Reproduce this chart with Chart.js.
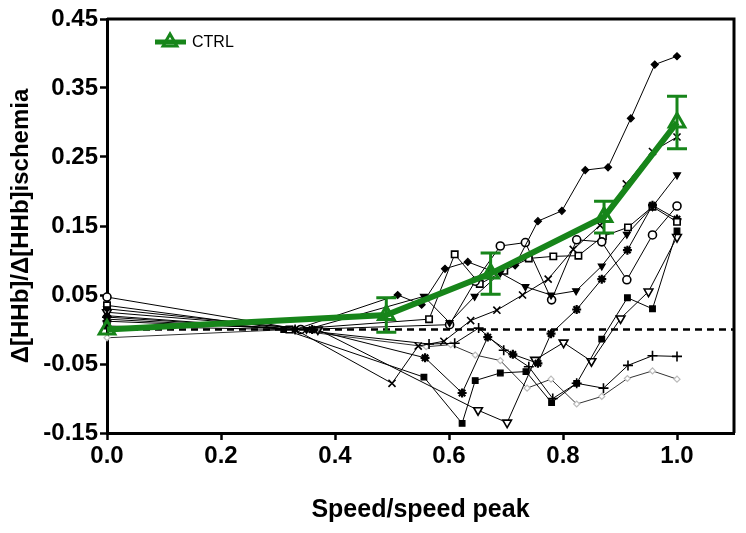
<!DOCTYPE html>
<html>
<head>
<meta charset="utf-8">
<script src="https://cdn.jsdelivr.net/npm/chart.js@4/dist/chart.umd.min.js"></script>
<style>
  html, body { margin: 0; padding: 0; background: #fff; }
  #wrap { width: 746px; height: 533px; }
</style>
</head>
<body>
<div id="wrap"><canvas id="chart" width="746" height="533"></canvas></div>
<script>
// tick labels
const xTicks = [0, 0.2, 0.4, 0.6, 0.8, 1.0];
const yTicks = [-0.15, -0.05, 0.05, 0.15, 0.25, 0.35, 0.45];

// CTRL group: mean and error
const ctrlX = [0, 0.49, 0.673, 0.872, 1.0];
const ctrlY = [0, 0.021, 0.081, 0.163, 0.300];
const ctrlErr = [0, 0.025, 0.030, 0.023, 0.038];

// zero reference line
const zeroX = [0, 1.1];
const zeroY = [0, 0];

// individual subjects
const diamondX = [0, 0.33, 0.51, 0.552, 0.593, 0.633, 0.674, 0.716, 0.756, 0.798, 0.839, 0.879, 0.919, 0.961, 1.0];
const diamondY = [0.020, 0.000, 0.050, 0.036, 0.088, 0.098, 0.085, 0.093, 0.157, 0.172, 0.231, 0.235, 0.306, 0.384, 0.396];

const crossX = [0, 0.33, 0.50, 0.546, 0.591, 0.638, 0.684, 0.729, 0.774, 0.818, 0.865, 0.911, 0.957, 1.0];
const crossY = [0.015, 0.000, -0.078, -0.024, -0.017, 0.013, 0.028, 0.050, 0.073, 0.116, 0.151, 0.211, 0.258, 0.279];

const triFillX = [0, 0.35, 0.556, 0.601, 0.645, 0.690, 0.734, 0.779, 0.823, 0.868, 0.912, 0.957, 1.0];
const triFillY = [0.030, 0.000, 0.048, 0.010, 0.048, 0.082, 0.062, 0.050, 0.056, 0.092, 0.138, 0.178, 0.224];

const circleX = [0, 0.34, 0.601, 0.646, 0.690, 0.734, 0.780, 0.824, 0.868, 0.912, 0.957, 1.0];
const circleY = [0.047, 0.000, 0.007, 0.070, 0.121, 0.126, 0.043, 0.130, 0.127, 0.072, 0.137, 0.179];

const squareX = [0, 0.32, 0.565, 0.610, 0.654, 0.697, 0.740, 0.783, 0.827, 0.870, 0.914, 0.957, 1.0];
const squareY = [0.035, 0.000, 0.015, 0.109, 0.066, 0.085, 0.103, 0.106, 0.107, 0.135, 0.148, 0.178, 0.156];

const starX = [0, 0.36, 0.558, 0.623, 0.668, 0.712, 0.756, 0.779, 0.824, 0.868, 0.913, 0.957, 1.0];
const starY = [0.012, 0.000, -0.041, -0.092, -0.011, -0.036, -0.049, -0.006, 0.029, 0.073, 0.115, 0.180, 0.160];

const sqFillX = [0, 0.31, 0.556, 0.623, 0.646, 0.690, 0.735, 0.780, 0.824, 0.868, 0.913, 0.957, 1.0];
const sqFillY = [0.005, 0.000, -0.069, -0.136, -0.074, -0.063, -0.061, -0.106, -0.078, -0.014, 0.046, 0.030, 0.143];

const triOpenX = [0, 0.37, 0.651, 0.702, 0.751, 0.801, 0.850, 0.901, 0.950, 1.0];
const triOpenY = [0.025, 0.000, -0.117, -0.135, -0.044, -0.019, -0.046, 0.016, 0.055, 0.134];

const plusX = [0, 0.33, 0.565, 0.610, 0.652, 0.696, 0.740, 0.782, 0.824, 0.871, 0.914, 0.957, 1.0];
const plusY = [0.018, 0.000, -0.021, -0.020, 0.002, -0.030, -0.054, -0.100, -0.078, -0.085, -0.052, -0.038, -0.039];

const greyX = [0, 0.32, 0.56, 0.603, 0.646, 0.690, 0.737, 0.779, 0.824, 0.868, 0.913, 0.957, 1.0];
const greyY = [-0.012, 0.000, -0.025, -0.022, -0.037, -0.045, -0.085, -0.072, -0.108, -0.097, -0.071, -0.060, -0.072];

const green = '#17851a';
const font = 'Liberation Sans, Arial, Helvetica, sans-serif';

function pts(xs, ys) {
    return xs.map((v, i) => ({ x: v, y: ys[i] }));
}

function subject(xs, ys, style, extra) {
    return Object.assign({
        data: pts(xs, ys),
        borderColor: '#000',
        borderWidth: 1,
        pointStyle: style,
        pointRadius: 3.5,
        pointBorderColor: '#000',
        pointBackgroundColor: '#000',
        pointBorderWidth: 1.2,
        order: 5
    }, extra || {});
}

// error bars, frame and legend
const decor = {
    id: 'decor',
    afterDatasetsDraw(chart) {
        const { ctx, chartArea, scales: { x, y } } = chart;
        ctx.save();
        ctx.strokeStyle = green;
        ctx.lineWidth = 3;
        ctrlX.forEach((v, i) => {
            if (!ctrlErr[i]) return;
            const px = x.getPixelForValue(v);
            const top = y.getPixelForValue(ctrlY[i] + ctrlErr[i]);
            const bot = y.getPixelForValue(ctrlY[i] - ctrlErr[i]);
            ctx.beginPath();
            ctx.moveTo(px, top); ctx.lineTo(px, bot);
            ctx.moveTo(px - 10, top); ctx.lineTo(px + 10, top);
            ctx.moveTo(px - 10, bot); ctx.lineTo(px + 10, bot);
            ctx.stroke();
        });

        // top and right frame lines
        ctx.strokeStyle = '#000';
        ctx.lineWidth = 3;
        ctx.beginPath();
        ctx.moveTo(chartArea.left, chartArea.top);
        ctx.lineTo(chartArea.right, chartArea.top);
        ctx.lineTo(chartArea.right, chartArea.bottom);
        ctx.stroke();

        // legend
        const lx = chartArea.left + 48, ly = chartArea.top + 23;
        ctx.strokeStyle = green;
        ctx.lineWidth = 5;
        ctx.beginPath();
        ctx.moveTo(lx, ly); ctx.lineTo(lx + 31, ly);
        ctx.stroke();
        ctx.fillStyle = 'rgba(0,0,0,0)';
        ctx.lineWidth = 3;
        Chart.helpers.drawPoint(ctx, { pointStyle: 'triangle', radius: 8, rotation: 0, borderWidth: 3 }, lx + 15, ly);
        ctx.fillStyle = '#000';
        ctx.font = '16px ' + font;
        ctx.textBaseline = 'middle';
        ctx.fillText('CTRL', lx + 37, ly + 1);
        ctx.restore();
    }
};

new Chart(document.getElementById('chart'), {
    type: 'line',
    data: {
        datasets: [
            {
                label: 'CTRL',
                data: pts(ctrlX, ctrlY),
                borderColor: green,
                borderWidth: 6,
                pointStyle: 'triangle',
                pointRadius: 9,
                pointBorderWidth: 3,
                pointBorderColor: green,
                pointBackgroundColor: 'rgba(0,0,0,0)',
                order: 0
            },
            {
                data: pts(zeroX, zeroY),
                borderColor: '#000',
                borderWidth: 2.5,
                borderDash: [7, 5],
                pointRadius: 0,
                order: 1
            },
            subject(diamondX, diamondY, 'rectRot', { pointRadius: 3.5 }),
            subject(crossX, crossY, 'crossRot', { pointRadius: 5, pointBorderWidth: 1.6 }),
            subject(triFillX, triFillY, 'triangle', { pointRadius: 4, pointRotation: 180 }),
            subject(circleX, circleY, 'circle', { pointRadius: 4, pointBackgroundColor: '#fff', pointBorderWidth: 1.6 }),
            subject(squareX, squareY, 'rect', { pointRadius: 4.5, pointBackgroundColor: '#fff', pointBorderWidth: 1.6 }),
            subject(starX, starY, 'star', { pointRadius: 4.5, pointBorderWidth: 2.2 }),
            subject(sqFillX, sqFillY, 'rect', { pointRadius: 4 }),
            subject(triOpenX, triOpenY, 'triangle', { pointRadius: 5, pointRotation: 180, pointBackgroundColor: '#fff', pointBorderWidth: 1.6 }),
            subject(plusX, plusY, 'cross', { pointRadius: 5, pointBorderWidth: 1.6 }),
            subject(greyX, greyY, 'rectRot', { pointRadius: 3, borderColor: '#333', pointBorderColor: '#bbb', pointBackgroundColor: '#fff' })
        ]
    },
    options: {
        responsive: false,
        animation: false,
        devicePixelRatio: 1,
        layout: { padding: { top: 19, right: 10, bottom: 0, left: 0 } },
        datasets: { line: { clip: false, tension: 0, spanGaps: true } },
        plugins: { legend: { display: false }, tooltip: { enabled: false } },
        scales: {
            x: {
                type: 'linear',
                min: 0,
                max: 1.1,
                afterBuildTicks: s => { s.ticks = xTicks.map(v => ({ value: v })); },
                afterFit: s => { s.height = 100; },
                border: { display: true, color: '#000', width: 3 },
                grid: { display: true, drawOnChartArea: false, drawTicks: true, tickLength: 7, tickWidth: 2.5, tickColor: '#000' },
                ticks: {
                    color: '#000',
                    padding: 2,
                    maxRotation: 0,
                    font: { family: font, size: 24, weight: 'bold' },
                    callback: v => v.toFixed(1)
                },
                title: {
                    display: true,
                    text: 'Speed/speed peak',
                    color: '#000',
                    font: { family: font, size: 25, weight: 'bold' },
                    padding: { top: 8, bottom: 8 }
                }
            },
            y: {
                type: 'linear',
                min: -0.15,
                max: 0.45,
                afterBuildTicks: s => { s.ticks = yTicks.map(v => ({ value: v })); },
                afterFit: s => { s.width = 107; },
                border: { display: true, color: '#000', width: 3 },
                grid: { display: true, drawOnChartArea: false, drawTicks: true, tickLength: 7, tickWidth: 2.5, tickColor: '#000' },
                ticks: {
                    color: '#000',
                    padding: 2,
                    font: { family: font, size: 24, weight: 'bold' },
                    callback: v => v.toFixed(2)
                },
                title: {
                    display: true,
                    text: 'Δ[HHb]/Δ[HHb]ischemia',
                    color: '#000',
                    font: { family: font, size: 24, weight: 'bold' },
                    padding: { top: 7, bottom: 7 }
                }
            }
        }
    },
    plugins: [decor]
});
</script>
</body>
</html>
